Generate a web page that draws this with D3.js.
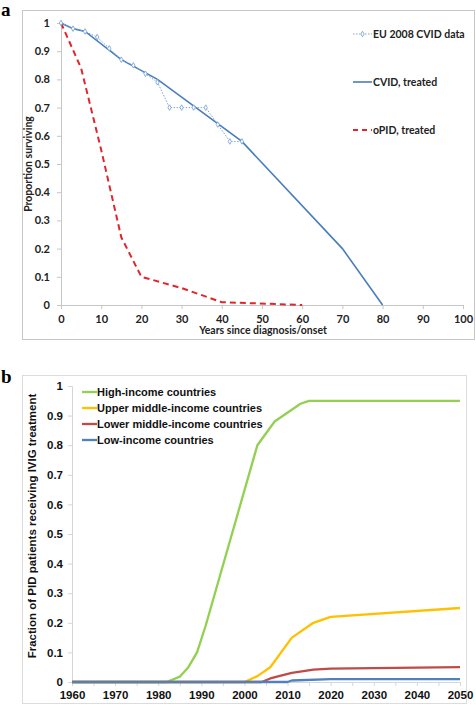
<!DOCTYPE html>
<html><head><meta charset="utf-8">
<script src="https://cdn.jsdelivr.net/npm/d3@7"></script>
<style>body{margin:0;background:#fff}svg{display:block}</style>
</head><body>
<svg id="c" width="476" height="705"></svg>
<script>
// ---- Panel a data ----
const euYears = [0,3,6,9,12,15,18,21,24,27,30,33,36,39,42,45];
const euValues = [1,0.98,0.97,0.95,0.91,0.87,0.85,0.82,0.79,0.70,0.70,0.70,0.70,0.64,0.58,0.58];
const cvidYears = [0,3,6,15,24,45,70,80];
const cvidValues = [1,0.98,0.97,0.87,0.80,0.58,0.20,0];
const opidYears = [0,5,10,15,20,30,40,60];
const opidValues = [1,0.84,0.55,0.24,0.10,0.06,0.01,0];
const aXTicks = [0,10,20,30,40,50,60,70,80,90,100];
const aYTicks = [0,0.1,0.2,0.3,0.4,0.5,0.6,0.7,0.8,0.9,1];
const aLegend = ["EU 2008 CVID data","CVID, treated","oPID, treated"];

// ---- Panel b data ----
const highYears = [1960,1982,1985,1987,1989,1991,2003,2007,2013,2015,2050];
const highValues = [0,0,0.018,0.05,0.1,0.19,0.80,0.88,0.94,0.95,0.95];
const upperYears = [1960,2000,2003,2006,2011,2016,2020,2050];
const upperValues = [0,0,0.02,0.05,0.15,0.20,0.22,0.25];
const lowerYears = [1960,2004,2006,2008,2011,2016,2020,2050];
const lowerValues = [0,0,0.012,0.02,0.031,0.042,0.045,0.05];
const lowYears = [1960,2010,2011,2020,2050];
const lowValues = [0,0,0.005,0.01,0.01];
const bXTicks = [1960,1970,1980,1990,2000,2010,2020,2030,2040,2050];
const bYTicks = [0,0.1,0.2,0.3,0.4,0.5,0.6,0.7,0.8,0.9,1];
const bLegend = ["High-income countries","Upper middle-income countries","Lower middle-income countries","Low-income countries"];

const svg = d3.select("#c");
const fmtY = d => d===0?"0":d===1?"1":d3.format(".1f")(d);
const zip = (xs, ys) => xs.map((x,i)=>[x, ys[i]]);

// ================= PANEL A =================
svg.append("text").attr("x",1).attr("y",16).text("a")
  .style("font-family","Liberation Serif").style("font-weight","bold").style("font-size","19px");
svg.append("rect").attr("x",22.5).attr("y",10.5).attr("width",452).attr("height",329)
  .attr("fill","none").attr("stroke","#c6c6c6");

const xA = d3.scaleLinear().domain([0,100]).range([61,463]);
const yA = d3.scaleLinear().domain([0,1]).range([305,23]);
const fontA = "Lato, 'Open Sans', sans-serif";

const axA_y = svg.append("g").attr("transform","translate(61,0)")
  .call(d3.axisLeft(yA).tickValues(aYTicks).tickFormat(fmtY).tickSize(4).tickPadding(7));
const axA_x = svg.append("g").attr("transform","translate(0,305)")
  .call(d3.axisBottom(xA).tickValues(aXTicks).tickSize(4).tickPadding(6));
[axA_y, axA_x].forEach(g=>{
  g.selectAll("path,line").attr("stroke","#c6c6c6");
  g.selectAll("text").style("font-family",fontA).style("font-weight","bold").style("font-size","11px").attr("fill","#222");
});
svg.append("text").attr("x",263).attr("y",334).attr("text-anchor","middle").text("Years since diagnosis/onset")
  .style("font-family",fontA).style("font-weight","bold").style("font-size","10.5px").attr("fill","#222");
svg.append("text").attr("transform","translate(32,164) rotate(-90)").attr("text-anchor","middle").text("Proportion surviving")
  .style("font-family",fontA).style("font-weight","bold").style("font-size","10.5px").attr("fill","#222");

const lineA = d3.line().x(d=>xA(d[0])).y(d=>yA(d[1]));
svg.append("path").datum(zip(opidYears,opidValues)).attr("d",lineA).attr("fill","none")
  .attr("stroke","#e0262b").attr("stroke-width",2).attr("stroke-dasharray","6,4");
svg.append("path").datum(zip(cvidYears,cvidValues)).attr("d",lineA).attr("fill","none")
  .attr("stroke","#4a7ebb").attr("stroke-width",1.6);
svg.append("path").datum(zip(euYears,euValues)).attr("d",lineA).attr("fill","none")
  .attr("stroke","#7ea6d6").attr("stroke-width",1).attr("stroke-dasharray","1.5,1.5");
const diamond = d3.symbol().type(d3.symbolDiamond).size(9);
svg.append("g").selectAll("path").data(zip(euYears,euValues)).join("path")
  .attr("d",diamond).attr("transform",d=>`translate(${xA(d[0])},${yA(d[1])})`)
  .attr("fill","#fff").attr("stroke","#7ea6d6").attr("stroke-width",0.9);

// legend a
const legA = svg.append("g");
const legAy = [34,82,130];
legA.append("line").attr("x1",353).attr("x2",372).attr("y1",legAy[0]).attr("y2",legAy[0])
  .attr("stroke","#7ea6d6").attr("stroke-dasharray","1.5,1.5");
legA.append("path").attr("d",diamond).attr("transform",`translate(362.5,${legAy[0]})`)
  .attr("fill","#fff").attr("stroke","#7ea6d6").attr("stroke-width",0.9);
legA.append("line").attr("x1",353).attr("x2",372).attr("y1",legAy[1]).attr("y2",legAy[1])
  .attr("stroke","#4a7ebb").attr("stroke-width",1.6);
legA.append("line").attr("x1",353).attr("x2",372).attr("y1",legAy[2]).attr("y2",legAy[2])
  .attr("stroke","#e0262b").attr("stroke-width",2).attr("stroke-dasharray","5,4");
aLegend.forEach((t,i)=>{
  legA.append("text").attr("x",373).attr("y",legAy[i]).attr("dy","0.35em").text(t)
    .style("font-family",fontA).style("font-weight","bold").style("font-size","10.5px").attr("fill","#222");
});

// ================= PANEL B =================
svg.append("text").attr("x",1).attr("y",383).text("b")
  .style("font-family","Liberation Serif").style("font-weight","bold").style("font-size","19px");
svg.append("rect").attr("x",22.5).attr("y",375.5).attr("width",444).attr("height",328)
  .attr("fill","none").attr("stroke","#dcdcdc");

const xB = d3.scaleLinear().domain([1960,2050]).range([72,460]);
const yB = d3.scaleLinear().domain([0,1]).range([682,386]);
const fontB = "'Liberation Sans', Arial, sans-serif";

const axB_y = svg.append("g").attr("transform","translate(72,0)")
  .call(d3.axisLeft(yB).tickValues(bYTicks).tickFormat(fmtY).tickSize(4).tickPadding(5));
const axB_x = svg.append("g").attr("transform","translate(0,682)")
  .call(d3.axisBottom(xB).tickValues(d3.range(1960,2051,5)).tickFormat(d=>d%10===0?d:"").tickSize(4).tickPadding(5));
[axB_y, axB_x].forEach(g=>{
  g.selectAll("path,line").attr("stroke","#d6d6d6");
  g.selectAll("text").style("font-family",fontB).style("font-weight","bold").style("font-size","11.5px").attr("fill","#111");
});
svg.append("text").attr("transform","translate(36,526) rotate(-90)").attr("text-anchor","middle")
  .text("Fraction of PID patients receiving IVIG treatment")
  .style("font-family",fontB).style("font-weight","bold").style("font-size","11.5px").attr("fill","#111");

const lineB = d3.line().x(d=>xB(d[0])).y(d=>yB(d[1]));
const seriesB = [
  {vals: zip(highYears,highValues), color:"#92d050"},
  {vals: zip(upperYears,upperValues), color:"#ffc000"},
  {vals: zip(lowerYears,lowerValues), color:"#be4b48"},
  {vals: zip(lowYears,lowValues), color:"#4f81bd"}
];
seriesB.forEach(s=>{
  svg.append("path").datum(s.vals).attr("d",lineB).attr("fill","none")
    .attr("stroke",s.color).attr("stroke-width",2.3).attr("stroke-linejoin","round");
});

const legBy = [392,408,424,440];
bLegend.forEach((t,i)=>{
  svg.append("line").attr("x1",82).attr("x2",97).attr("y1",legBy[i]).attr("y2",legBy[i])
    .attr("stroke",seriesB[i].color).attr("stroke-width",2.3);
  svg.append("text").attr("x",97).attr("y",legBy[i]).attr("dy","0.36em").text(t)
    .style("font-family",fontB).style("font-weight","bold").style("font-size","11px").attr("fill","#111");
});
</script>
</body></html>
